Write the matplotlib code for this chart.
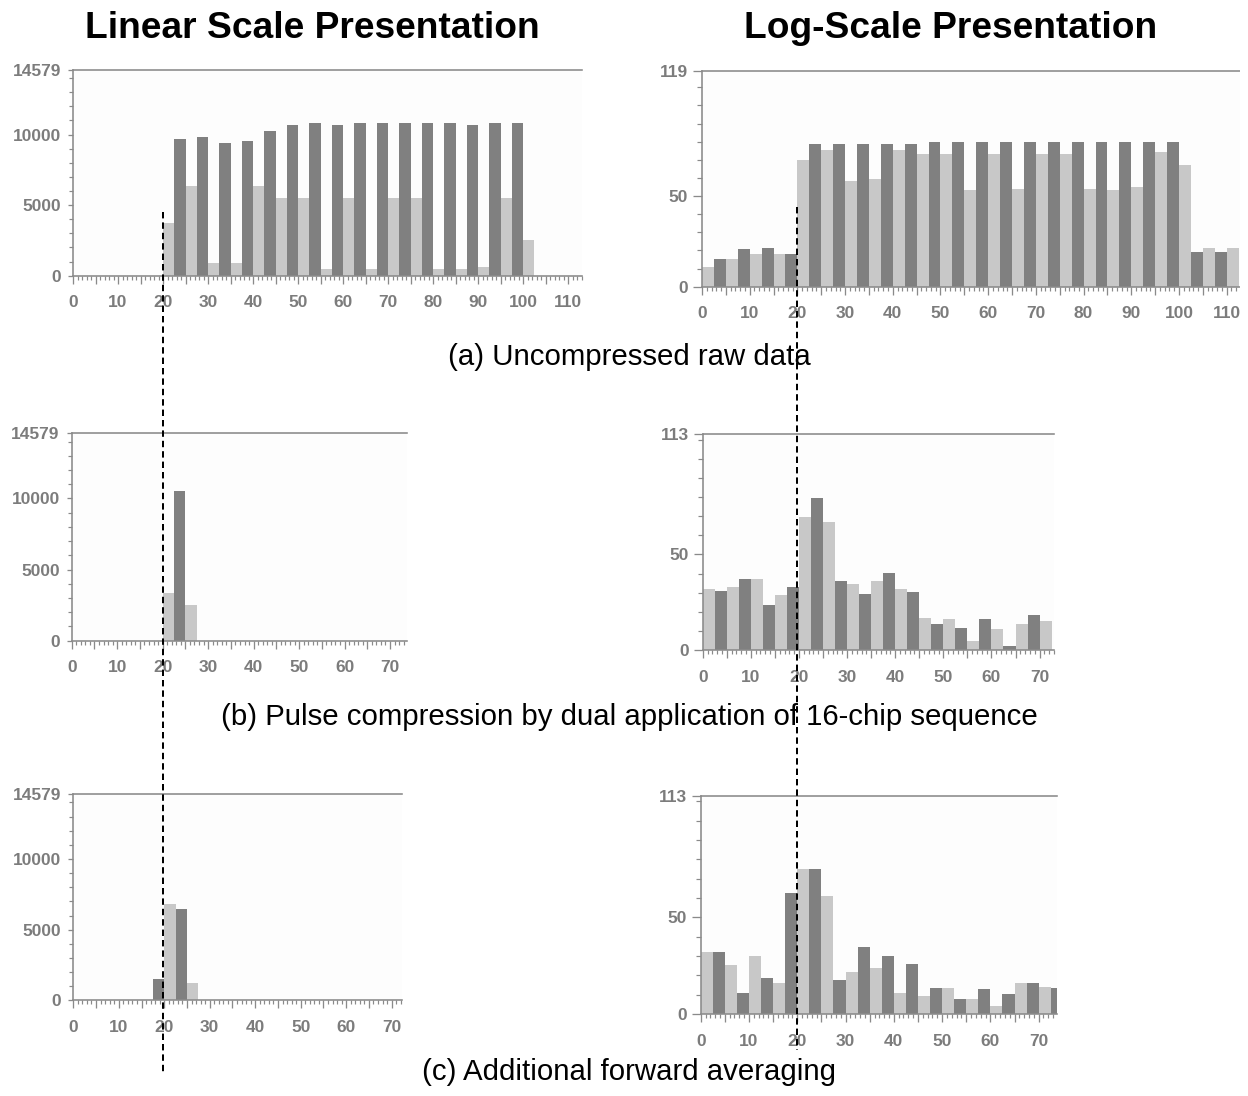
import matplotlib
matplotlib.use("Agg")
import matplotlib.pyplot as plt
from matplotlib.ticker import FixedLocator, MultipleLocator, FuncFormatter, NullFormatter
from matplotlib.lines import Line2D
from matplotlib.patches import Rectangle
from matplotlib.transforms import blended_transform_factory

# ---------------- data (range bins of 2.5 units, bin k starts at 2.5*k) ----------------
BIN = 2.5

# (a) uncompressed raw data, linear amplitude
raw_linear = [0, 0, 0, 0, 0, 0, 0, 0,
              3710, 9720, 6380, 9810, 920, 9390, 920, 9530, 6380, 10260,
              5520, 10660, 5520, 10800, 490, 10660, 5520, 10800, 490, 10800,
              5520, 10800, 5520, 10800, 490, 10800, 490, 10660, 590, 10800,
              5520, 10800, 2540]
# (a) uncompressed raw data, log amplitude
raw_log = [11.0, 15.4, 15.4, 20.7, 18.0, 21.6, 18.0, 18.0,
           70.0, 78.8, 75.3, 78.8, 58.4, 78.8, 59.3, 78.8, 75.3, 78.8,
           73.4, 79.7, 73.4, 79.7, 53.3, 79.7, 73.4, 79.7, 54.0, 79.7,
           73.4, 79.7, 73.4, 79.7, 54.0, 79.7, 53.3, 79.7, 55.0, 79.7,
           74.4, 79.7, 67.2, 18.9, 21.6, 18.9, 21.6]

# (b) pulse compression, linear / log
pc_linear = [0, 0, 0, 0, 0, 0, 0, 0, 3320, 10500, 2520]
pc_log = [31.9, 31.0, 32.8, 37.1, 37.1, 23.5, 28.8, 32.8,
          69.7, 79.7, 66.8, 36.3, 34.4, 29.1, 36.3, 40.1, 31.9, 30.3,
          16.6, 13.8, 16.0, 11.3, 4.5, 16.0, 10.8, 2.3, 13.8, 18.3, 15.3]

# (c) additional forward averaging, linear / log
avg_linear = [0, 0, 0, 0, 0, 0, 0, 1510, 6780, 6480, 1200]
avg_log = [31.9, 31.9, 25.2, 11.0, 30.2, 18.4, 15.9, 62.8,
           75.3, 75.3, 61.0, 17.6, 21.9, 34.5, 23.6, 30.2, 11.0, 26.0,
           9.3, 13.4, 13.4, 7.6, 7.6, 12.8, 4.1, 10.2, 15.9, 15.9, 14.1, 13.4]

linear_max = 14579
log_max_a = 119
log_max_bc = 113
linear_ticks = [0, 5000, 10000, linear_max]
marker_range = 20

titles = ["Linear Scale Presentation", "Log-Scale Presentation"]
captions = ["(a) Uncompressed raw data",
            "(b) Pulse compression by dual application of 16-chip sequence",
            "(c) Additional forward averaging"]

# ---------------- style ----------------
W, H = 1248, 1096
DPI = 100
PX = 72.0 / DPI  # points per pixel
LIGHT = "#c8c8c8"
DARK = "#808080"
AXC = "#8a8a8a"
LBL = "#7c7c7c"
FONT = ["Liberation Sans", "DejaVu Sans"]
TICKSIZE = 12.5

plt.rcParams["font.family"] = FONT

fig = plt.figure(figsize=(W / DPI, H / DPI), dpi=DPI, facecolor="white")


def add_ax(left, top, right, bottom):
    return fig.add_axes([left / W, 1 - bottom / H, (right - left) / W, (bottom - top) / H])


def style(ax, xmax, ymax, yticks, yminor, ymaj_len, ymin_len, ypad):
    ax.set_facecolor("#fdfdfd")
    ax.set_xlim(0, xmax)
    ax.set_ylim(0, ymax)
    for s in ["left", "top", "bottom"]:
        ax.spines[s].set_color(AXC)
        ax.spines[s].set_linewidth(1.6 * PX)
    ax.spines["right"].set_visible(False)
    ax.xaxis.set_major_locator(MultipleLocator(5))
    ax.xaxis.set_minor_locator(MultipleLocator(1))
    ax.xaxis.set_major_formatter(FuncFormatter(
        lambda v, p: f"{int(round(v))}" if int(round(v)) % 10 == 0 else ""))
    ax.yaxis.set_major_locator(FixedLocator(yticks))
    ax.yaxis.set_minor_locator(FixedLocator(yminor))
    ax.yaxis.set_minor_formatter(NullFormatter())
    ax.tick_params(axis="x", which="major", direction="out", length=8 * PX,
                   width=1.3 * PX, color=AXC, pad=11.5 * PX,
                   labelsize=TICKSIZE, labelcolor=LBL)
    ax.tick_params(axis="x", which="minor", direction="out", length=4 * PX,
                   width=1.2 * PX, color=AXC)
    ax.tick_params(axis="y", which="major", direction="out", length=ymaj_len * PX,
                   width=1.3 * PX, color=AXC, pad=ypad * PX,
                   labelsize=TICKSIZE, labelcolor=LBL)
    ax.tick_params(axis="y", which="minor", direction="out", length=ymin_len * PX,
                   width=1.2 * PX, color=AXC)
    for lab in ax.get_xticklabels() + ax.get_yticklabels():
        lab.set_fontweight("bold")


def draw_bars(ax, values):
    edges = [BIN * k for k in range(len(values))]
    colors = [LIGHT if k % 2 == 0 else DARK for k in range(len(values))]
    ax.bar(edges, values, width=BIN, align="edge", color=colors, linewidth=0, zorder=2)


lin_minor = [v for v in range(1000, linear_max, 1000) if v not in linear_ticks]


def log_minor(top):
    return [v for v in range(10, top, 10) if v != 50]


# (a)
ax_a_lin = add_ax(73, 70, 581.7, 275.7)
draw_bars(ax_a_lin, raw_linear)
style(ax_a_lin, 113, linear_max, linear_ticks, lin_minor, 5, 4, 7)

ax_a_log = add_ax(702, 71, 702 + 4.77 * 116, 286.7)
draw_bars(ax_a_log, raw_log)
style(ax_a_log, 116, log_max_a, [0, 50, log_max_a], log_minor(log_max_a), 9, 5, 5)

# (b)
ax_b_lin = add_ax(71.7, 433.3, 407.3, 640.7)
draw_bars(ax_b_lin, pc_linear)
style(ax_b_lin, 73.8, linear_max, linear_ticks, lin_minor, 5, 4, 7)

ax_b_log = add_ax(702.7, 434, 1054, 650)
draw_bars(ax_b_log, pc_log)
style(ax_b_log, 73.0, log_max_bc, [0, 50, log_max_bc], log_minor(log_max_bc), 9, 5, 5)

# (c)
ax_c_lin = add_ax(73.3, 794.3, 401.7, 1000.3)
draw_bars(ax_c_lin, avg_linear)
style(ax_c_lin, 72.2, linear_max, linear_ticks, lin_minor, 5, 4, 7)

ax_c_log = add_ax(700.7, 795.7, 1057, 1014)
draw_bars(ax_c_log, avg_log)
style(ax_c_log, 73.8, log_max_bc, [0, 50, log_max_bc], log_minor(log_max_bc), 9, 5, 5)

# right edge of the top-right panel is cut off in the original screenshot
fig.add_artist(Rectangle((1240 / W, 1 - 330 / H), 8 / W, 280 / H,
                         transform=fig.transFigure, facecolor="white",
                         edgecolor="none", zorder=10))

# titles and captions
fig.text(312 / W, 1 - 28 / H, titles[0], ha="center", va="center",
         fontsize=26.7, fontweight="bold", color="black")
fig.text(951 / W, 1 - 28 / H, titles[1], ha="center", va="center",
         fontsize=26.7, fontweight="bold", color="black")
for cap, y in zip(captions, [357, 717, 1072]):
    fig.text(629 / W, 1 - y / H, cap, ha="center", va="center",
             fontsize=21.2, color="black")

# vertical dashed markers at range 20 through each column
for ax_ref, ytop, ybot in [(ax_a_lin, 212, 1075), (ax_a_log, 207, 1050)]:
    tr = blended_transform_factory(ax_ref.transData, fig.transFigure)
    fig.add_artist(Line2D([marker_range, marker_range], [1 - ytop / H, 1 - ybot / H],
                          transform=tr, color="black", lw=2 * PX,
                          linestyle=(0, (3.2, 2.0)), zorder=20, clip_on=False))

fig.savefig("out.png", dpi=DPI, facecolor="white")
